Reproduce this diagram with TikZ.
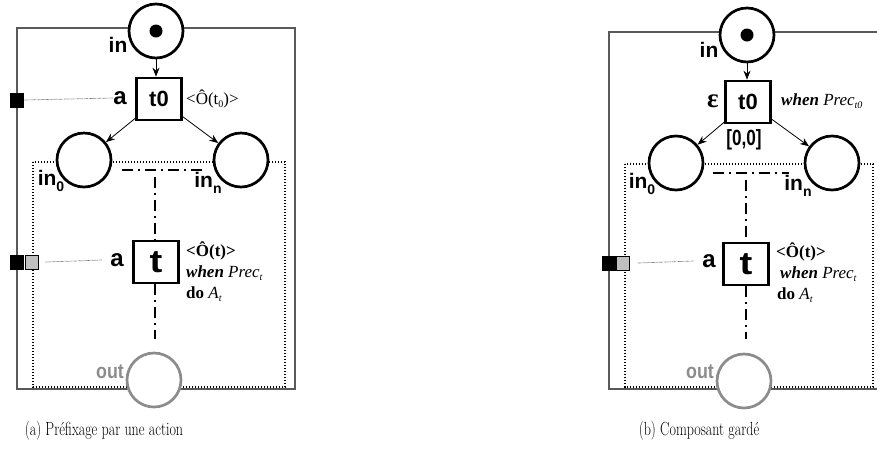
\documentclass[tikz,border=0pt]{standalone}
\usepackage{fontspec}
\newfontfamily\hv{Liberation Sans}
\newfontfamily\tm{Liberation Serif}
\usetikzlibrary{arrows.meta}
\newcommand{\subs}[1]{\raisebox{-0.22em}{\fontsize{10}{10}\selectfont #1}}
\newcommand{\lsub}[1]{\raisebox{-0.3em}{\fontsize{14}{14}\selectfont #1}}
\newcommand{\narrow}[2]{\scalebox{#1}[1]{#2}}
\begin{document}
\begin{tikzpicture}[x=1pt,y=-1pt,
  place/.style={circle,draw,line width=2.7pt,minimum size=54pt,inner sep=0pt,fill=white},
  outplace/.style={place,draw=black!45},
  trans/.style={rectangle,draw,line width=2.7pt,minimum width=45pt,minimum height=42pt,inner sep=0pt,fill=white,font=\hv\bfseries\fontsize{22}{22}\selectfont},
  lab/.style={font=\hv\bfseries\fontsize{21}{21}\selectfont,inner sep=0pt},
  alab/.style={font=\hv\bfseries\fontsize{24}{24}\selectfont,inner sep=0pt},
  sq/.style={rectangle,draw=black,line width=0.6pt,minimum width=13pt,minimum height=14pt,inner sep=0pt},
  ann/.style={font=\tm\fontsize{17}{17}\selectfont,inner sep=0pt,anchor=base west},
  frame/.style={draw=black!65,line width=1.3pt},
  dotbox/.style={draw,line width=1.4pt,dash pattern=on 1.4pt off 1.6pt},
  dashdot/.style={line width=1.8pt,dash pattern=on 11pt off 5pt on 2pt off 5pt},
  fine/.style={draw=black!55,line width=0.7pt,dash pattern=on 0.7pt off 0.6pt},
  arc/.style={line width=0.8pt,-{Stealth[length=9pt,width=7pt]}},
  captext/.style={font=\fontsize{19}{21}\selectfont,inner sep=0pt}
]
\useasboundingbox (0,0) rectangle (877,467);
\clip (0,0) rectangle (877,467);

% ================= panel (a) =================
\draw[frame] (17,28) rectangle (295,389);
\draw[dotbox] (33,162) rectangle (285,387);
\node[place] (a-in) at (156,31) {};
\fill (156,31) circle (6.5);
\node[lab] (a-inl) at (118,45) {in};
\node[trans] (a-t0) at (159,99) {t0};
\node[alab] (a-a0) at (120,98) {a};
\node[sq,fill=black] (a-sq0) at (17,100) {};
\node[ann] (a-o0) at (186,104) {<Ô(t\subs{0})>};
\node[place] (a-p0) at (84,160) {};
\node[place] (a-pn) at (241,160) {};
\node[lab] (a-l0) at (51,181) {in\lsub{0}};
\node[lab] (a-ln) at (208,183) {in\lsub{n}};
\node[trans,font=\hv\bfseries\fontsize{32}{32}\selectfont] (a-t) at (156,262) {\narrow{1.2}{t}};
\node[alab] (a-a) at (117,260) {a};
\node[sq,fill=black] (a-sq1) at (17,262) {};
\node[sq,fill=black!25] (a-sq2) at (31.5,262) {};
\node[ann,font=\tm\bfseries\fontsize{17}{17}\selectfont] (a-o1) at (186,256) {<Ô(t)>};
\node[ann] (a-o2) at (186,277) {\textbf{\textit{when}} \textit{Prec\subs{t}}};
\node[ann] (a-o3) at (186,298) {\textbf{do} \textit{A\subs{t}}};
\node[outplace] (a-out) at (154,380) {};
\node[lab,text=black!45] (a-outl) at (110,372) {\narrow{0.85}{out}};
\coordinate (a-h1) at (122,170);
\coordinate (a-h2) at (205,170);
\coordinate (a-v1) at (155,177);
\coordinate (a-v2) at (155,339);
\draw[arc] (a-in) -- (a-in |- a-t0.north);
\draw[arc] (a-t0) -- (a-p0);
\draw[arc] (a-t0) -- (a-pn);
\draw[dashdot] (a-h1) -- (a-h2);
\draw[dashdot] (a-v1) -- (a-v1 |- a-t.north);
\draw[dashdot] (a-v1 |- a-t.south) -- (a-v2);
\draw[fine] (a-sq0.east) -- (a-a0.west);
\draw[fine] ([xshift=7pt]a-sq2.east) -- ([xshift=-8pt]a-a.west);
\node[captext] (a-cap) at (104,431) {\narrow{0.74}{(a) Préfixage par une action}};

% ================= panel (b) =================
\draw[frame] (609,32) rectangle (890,389);
\draw[dotbox] (625,164) rectangle (873,387);
\node[place] (b-in) at (747,35) {};
\fill (747,35) circle (6.5);
\node[lab] (b-inl) at (709,50) {in};
\node[trans] (b-t0) at (748,102) {t0};
\node[font=\tm\bfseries\fontsize{27}{27}\selectfont,inner sep=0pt] (b-eps) at (713,101) {ε};
\node[ann] (b-o0) at (781,105) {\textbf{\textit{when}} \textit{Prec\subs{t0}}};
\node[lab,font=\hv\bfseries\fontsize{22}{22}\selectfont] (b-int) at (744,140) {\narrow{0.78}{[0,0]}};
\node[place] (b-p0) at (676,163) {};
\node[place] (b-pn) at (832,163) {};
\node[lab] (b-l0) at (642,184) {in\lsub{0}};
\node[lab] (b-ln) at (798,186) {in\lsub{n}};
\node[trans,font=\hv\bfseries\fontsize{32}{32}\selectfont] (b-t) at (746,264) {\narrow{1.2}{t}};
\node[alab] (b-a) at (709,261) {a};
\node[sq,fill=black] (b-sq1) at (608.5,263) {};
\node[sq,fill=black!25] (b-sq2) at (623,263) {};
\node[ann,font=\tm\bfseries\fontsize{17}{17}\selectfont] (b-o1) at (776,257) {<Ô(t)>};
\node[ann] (b-o2) at (780,278) {\textbf{\textit{when}} \textit{Prec\subs{t}}};
\node[ann] (b-o3) at (777,299) {\textbf{do} \textit{A\subs{t}}};
\node[outplace] (b-out) at (744,381) {};
\node[lab,text=black!45] (b-outl) at (700,372) {\narrow{0.85}{out}};
\coordinate (b-h1) at (713,173);
\coordinate (b-h2) at (789,173);
\coordinate (b-v1) at (746,180);
\coordinate (b-v2) at (746,339);
\draw[arc] (b-in) -- (b-in |- b-t0.north);
\draw[arc] (b-t0) -- (b-p0);
\draw[arc] (b-t0) -- (b-pn);
\draw[dashdot] (b-h1) -- (b-h2);
\draw[dashdot] (b-v1) -- (b-v1 |- b-t.north);
\draw[dashdot] (b-v1 |- b-t.south) -- (b-v2);
\draw[fine] ([xshift=8pt]b-sq2.east) -- ([xshift=-8pt]b-a.west);
\node[captext] (b-cap) at (699,431) {\narrow{0.74}{(b) Composant gardé}};
\end{tikzpicture}
\end{document}
